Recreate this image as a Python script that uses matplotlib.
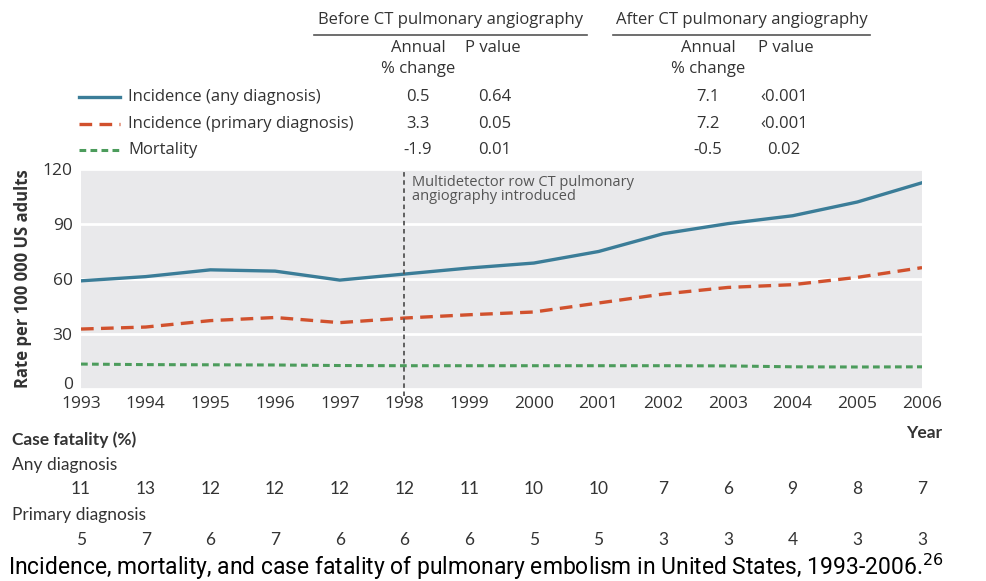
import matplotlib.pyplot as plt
from matplotlib.lines import Line2D
from matplotlib.transforms import blended_transform_factory, offset_copy

# Data
years = list(range(1993, 2007))
incidence_any = [59.0, 61.3, 65.0, 64.3, 59.4, 62.7, 66.0, 68.7, 75.0, 84.7, 90.2, 94.5, 102.0, 112.5]
incidence_primary = [32.7, 33.8, 37.3, 39.0, 36.2, 38.7, 40.5, 42.0, 46.9, 51.8, 55.4, 56.9, 60.9, 66.2]
mortality = [13.6, 13.3, 13.2, 13.1, 12.8, 12.7, 12.7, 12.7, 12.7, 12.7, 12.6, 12.1, 12.0, 12.1]

fatality_any = [11, 13, 12, 12, 12, 12, 11, 10, 10, 7, 6, 9, 8, 7]
fatality_primary = [5, 7, 6, 7, 6, 6, 6, 5, 5, 3, 3, 4, 3, 3]

series_names = ["Incidence (any diagnosis)", "Incidence (primary diagnosis)", "Mortality"]
before_change = ["0.5", "3.3", "-1.9"]
before_p = ["0.64", "0.05", "0.01"]
after_change = ["7.1", "7.2", "-0.5"]
after_p = ["\u20390.001", "\u20390.001", "0.02"]

BLUE = "#3b7d98"
RED = "#d1512d"
GREEN = "#4c9c5c"
TEXT = "#333333"
W, H = 986, 581

plt.rcParams["font.family"] = ["Open Sans", "DejaVu Sans"]


def fx(x):
    return x / W


def fy(y):
    return 1 - y / H


fig = plt.figure(figsize=(9.86, 5.81), dpi=100)
ax = fig.add_axes([fx(81), fy(389), fx(922) - fx(81), fy(169) - fy(389)])
ax.set_facecolor("#e9e9eb")

styles = [
    dict(color=BLUE, lw=2.4, ls="-"),
    dict(color=RED, lw=2.4, ls=(0, (3.8, 2.2))),
    dict(color=GREEN, lw=2.2, ls=(0, (2.2, 1.4))),
]
for vals, st in zip([incidence_any, incidence_primary, mortality], styles):
    ax.plot(years, vals, **st, zorder=3)

ax.set_xlim(1993, 2006)
ax.set_ylim(0, 120)
ax.set_yticks([0, 30, 60, 90, 120])
ax.set_xticks(years)
ax.grid(axis="y", color="white", lw=2)
ax.set_axisbelow(True)
for s in ax.spines.values():
    s.set_visible(False)
ax.tick_params(axis="both", length=0, labelsize=12.5, colors=TEXT, pad=6)
ax.tick_params(axis="x", pad=5)
zero_lbl = ax.get_yticklabels()[0]
zero_lbl.set_transform(offset_copy(zero_lbl.get_transform(), fig=fig, y=6, units="dots"))
ax.set_ylabel("Rate per 100 000 US adults", fontsize=12, fontweight="bold",
              color=TEXT, labelpad=8)

# vertical marker at 1998
ax.axvline(1998, ymin=-0.03, ymax=1, color="#555555", lw=1.3, ls=(0, (2.5, 2)),
           clip_on=False, zorder=4)
ax.text(1998.12, 117, "Multidetector row CT pulmonary\nangiography introduced",
        fontsize=10.5, color="#555555", va="top", ha="left", linespacing=1.0)

# table / legend at top
fs = 12
fig.text(fx(451), fy(20), "Before CT pulmonary angiography", ha="center", va="center",
         fontsize=fs, color=TEXT)
fig.text(fx(742), fy(20), "After CT pulmonary angiography", ha="center", va="center",
         fontsize=fs, color=TEXT)
fig.add_artist(Line2D([fx(314), fx(587)], [fy(35), fy(35)], color="#555555", lw=1.2))
fig.add_artist(Line2D([fx(613), fx(870)], [fy(35), fy(35)], color="#555555", lw=1.2))
for cx, px in [(418, 465), (708, 758)]:
    fig.text(fx(cx), fy(48), "Annual", ha="center", va="center", fontsize=fs, color=TEXT)
    fig.text(fx(cx), fy(69), "% change", ha="center", va="center", fontsize=fs, color=TEXT)
    fig.text(fx(px), fy(48), "P value", ha="left", va="center", fontsize=fs, color=TEXT)

rows_y = [97, 124, 150]
for i, (name, st) in enumerate(zip(series_names, styles)):
    y = fy(rows_y[i])
    fig.add_artist(Line2D([fx(79), fx(120)], [y, y], **st))
    fig.text(fx(128), y, name, ha="left", va="center", fontsize=fs, color=TEXT)
    fig.text(fx(418), y, before_change[i], ha="center", va="center", fontsize=fs, color=TEXT)
    fig.text(fx(495), y, before_p[i], ha="center", va="center", fontsize=fs, color=TEXT)
    fig.text(fx(708), y, after_change[i], ha="center", va="center", fontsize=fs, color=TEXT)
    fig.text(fx(784), y, after_p[i], ha="center", va="center", fontsize=fs, color=TEXT)

# case fatality rows
cond = ["Lato", "DejaVu Sans"]
fig.text(fx(12), fy(440), "Case fatality (%)", ha="left", va="center", fontsize=12.5,
         fontweight="bold", color=TEXT, family=cond)
fig.text(fx(942), fy(433), "Year", ha="right", va="center", fontsize=12.5,
         fontweight="bold", color=TEXT, family=cond)
fig.text(fx(12), fy(465), "Any diagnosis", ha="left", va="center", fontsize=12.5,
         color=TEXT, family=cond)
fig.text(fx(12), fy(515), "Primary diagnosis", ha="left", va="center", fontsize=12.5,
         color=TEXT, family=cond)
trans = blended_transform_factory(ax.transData, fig.transFigure)
for yr, a, p in zip(years, fatality_any, fatality_primary):
    ax.text(yr, fy(489), str(a), transform=trans, ha="center", va="center",
            fontsize=12.5, color=TEXT, family=cond)
    ax.text(yr, fy(540), str(p), transform=trans, ha="center", va="center",
            fontsize=12.5, color=TEXT, family=cond)

fig.text(fx(8), fy(575), "Incidence, mortality, and case fatality of pulmonary embolism "
         "in United States, 1993-2006.$^{26}$", ha="left", va="baseline", fontsize=16.5,
         color="black", family=["Roboto", "DejaVu Sans"])

fig.savefig("out.png", dpi=100)
